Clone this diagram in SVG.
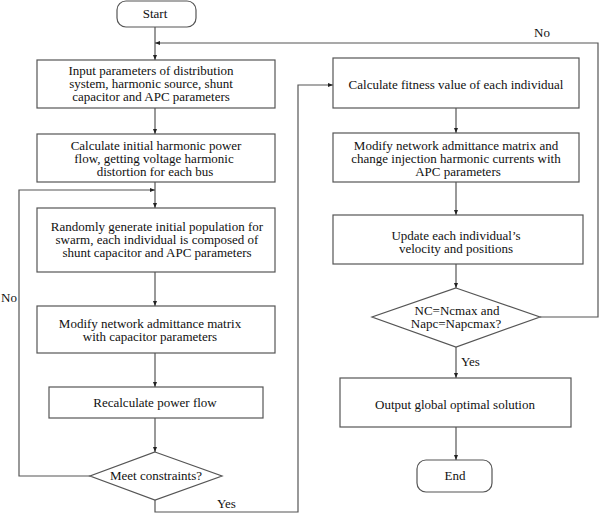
<svg xmlns="http://www.w3.org/2000/svg" width="600" height="514" viewBox="0 0 600 514">
<defs>
<style>
.box{fill:#fff;stroke:#555;stroke-width:1.2}
.ln{fill:none;stroke:#555;stroke-width:1.2}
.t{font-family:'Liberation Serif','DejaVu Serif',serif;font-size:13px;fill:#111;text-anchor:middle}
.lbl{text-anchor:start}
</style>
<marker id="ah" markerWidth="5" markerHeight="4" refX="5" refY="2" orient="auto" markerUnits="userSpaceOnUse">
<path d="M0,0 L5,2 L0,4 Z" fill="#222"/>
</marker>
</defs>
<rect width="600" height="514" fill="#fff"/>
<g id="connectors">
<path class="ln" d="M155,27 V60" marker-end="url(#ah)"/>
<path class="ln" d="M155,108 V134" marker-end="url(#ah)"/>
<path class="ln" d="M155,182 V208" marker-end="url(#ah)"/>
<path class="ln" d="M155,272 V306" marker-end="url(#ah)"/>
<path class="ln" d="M155,353 V387" marker-end="url(#ah)"/>
<path class="ln" d="M155,418 V452" marker-end="url(#ah)"/>
<path class="ln" d="M90,476 H19 V190 H155" marker-end="url(#ah)"/>
<path class="ln" d="M155,500 V512 H298 V85 H333" marker-end="url(#ah)"/>
<path class="ln" d="M456,108 V133" marker-end="url(#ah)"/>
<path class="ln" d="M456,182 V215" marker-end="url(#ah)"/>
<path class="ln" d="M456,264 V288" marker-end="url(#ah)"/>
<path class="ln" d="M540,317 H598 V43 H155" marker-end="url(#ah)"/>
<path class="ln" d="M456,347 V378" marker-end="url(#ah)"/>
<path class="ln" d="M456,427 V460" marker-end="url(#ah)"/>
<text class="t lbl" x="1" y="302">No</text>
<text class="t lbl" x="217" y="508">Yes</text>
<text class="t lbl" x="534" y="37">No</text>
<text class="t lbl" x="461" y="366">Yes</text>
</g>
<g id="start">
<rect class="box" x="117" y="1" width="79" height="26" rx="9"/>
<text class="t" x="155" y="18">Start</text>
</g>
<g id="input">
<rect class="box" x="37" y="60" width="238" height="48"/>
<text class="t"><tspan x="151" y="75">Input parameters of distribution</tspan><tspan x="151" y="88">system, harmonic source, shunt</tspan><tspan x="151" y="101">capacitor and APC parameters</tspan></text>
</g>
<g id="calc-initial">
<rect class="box" x="37" y="134" width="238" height="48"/>
<text class="t"><tspan x="156" y="150">Calculate initial harmonic power</tspan><tspan x="154" y="163">flow, getting voltage harmonic</tspan><tspan x="155" y="176">distortion for each bus</tspan></text>
</g>
<g id="random-gen">
<rect class="box" x="37" y="208" width="238" height="64"/>
<text class="t"><tspan x="157" y="231">Randomly generate initial population for</tspan><tspan x="157" y="244">swarm, each individual is composed of</tspan><tspan x="157" y="257">shunt capacitor and APC parameters</tspan></text>
</g>
<g id="modify-cap">
<rect class="box" x="37" y="306" width="238" height="47"/>
<text class="t"><tspan x="150" y="328">Modify network admittance matrix</tspan><tspan x="150" y="341">with capacitor parameters</tspan></text>
</g>
<g id="recalc">
<rect class="box" x="49" y="387" width="214" height="31"/>
<text class="t" x="155" y="407">Recalculate power flow</text>
</g>
<g id="meet">
<polygon class="box" points="155,452 222,476 155,500 90,476"/>
<text class="t" x="156" y="480">Meet constraints?</text>
</g>
<g id="fitness">
<rect class="box" x="333" y="58" width="246" height="50"/>
<text class="t" x="456" y="89">Calculate fitness value of each individual</text>
</g>
<g id="modify-apc">
<rect class="box" x="333" y="133" width="246" height="49"/>
<text class="t"><tspan x="456" y="150">Modify network admittance matrix and</tspan><tspan x="456" y="163">change injection harmonic currents with</tspan><tspan x="458" y="176">APC parameters</tspan></text>
</g>
<g id="update">
<rect class="box" x="333" y="215" width="250" height="49"/>
<text class="t"><tspan x="456" y="240">Update each individual’s</tspan><tspan x="456" y="253">velocity and positions</tspan></text>
</g>
<g id="check">
<polygon class="box" points="456,288 540,317 456,347 372,317"/>
<text class="t"><tspan x="457" y="315">NC=Ncmax and</tspan><tspan x="456" y="328">Napc=Napcmax?</tspan></text>
</g>
<g id="output">
<rect class="box" x="340" y="378" width="231" height="49"/>
<text class="t" x="455" y="409">Output global optimal solution</text>
</g>
<g id="end">
<rect class="box" x="417" y="460" width="75" height="32" rx="9"/>
<text class="t" x="455" y="480">End</text>
</g>
</svg>
